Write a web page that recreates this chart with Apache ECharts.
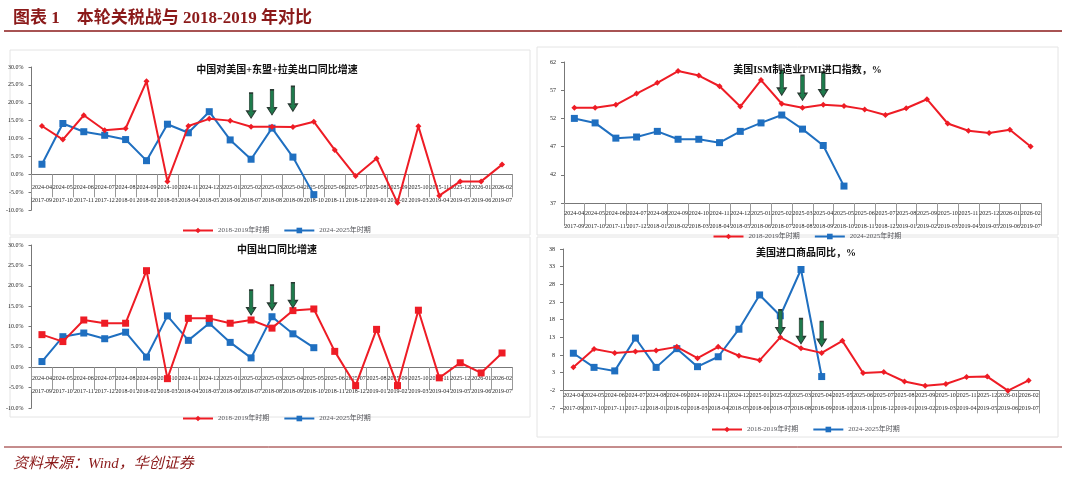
<!DOCTYPE html>
<html><head><meta charset="utf-8">
<script src="https://cdn.jsdelivr.net/npm/echarts@6/dist/echarts.min.js"></script>
<style>html,body{margin:0;padding:0;background:#fff}#c{width:1066px;height:477px}</style>
</head><body><div id="c"></div>
<script>
const catsNew = ['2024-04','2024-05','2024-06','2024-07','2024-08','2024-09','2024-10','2024-11','2024-12','2025-01','2025-02','2025-03','2025-04','2025-05','2025-06','2025-07','2025-08','2025-09','2025-10','2025-11','2025-12','2026-01','2026-02'];
const catsOld = ['2017-09','2017-10','2017-11','2017-12','2018-01','2018-02','2018-03','2018-04','2018-05','2018-06','2018-07','2018-08','2018-09','2018-10','2018-11','2018-12','2019-01','2019-02','2019-03','2019-04','2019-05','2019-06','2019-07'];
const nameOld = '2018-2019年时期', nameNew = '2024-2025年时期';

const exp3Old = [13.5,9.7,16.5,12.3,12.8,26,-2,13.5,15.5,15,13.3,13.3,13.2,14.7,6.8,-0.5,4.4,-8,13.4,-6,-2,-2,2.7];
const exp3New = [2.8,14.2,11.9,10.9,9.7,3.8,14,11.6,17.5,9.6,4.2,12.9,4.8,-5.7];
const ismOld = [53.9,53.9,54.4,56.4,58.3,60.4,59.6,57.7,54.1,58.8,54.6,53.9,54.4,54.2,53.6,52.6,53.8,55.4,51.1,49.8,49.4,50,47];
const ismNew = [52,51.2,48.5,48.7,49.7,48.3,48.3,47.7,49.7,51.2,52.6,50.1,47.2,40];
const expOld = [8.0,6.3,11.6,10.8,10.8,23.7,-2.8,12.0,12.0,10.8,11.6,9.6,13.9,14.3,3.9,-4.5,9.3,-4.5,14.0,-2.6,1.1,-1.4,3.5];
const expNew = [1.4,7.5,8.4,7.0,8.6,2.5,12.6,6.6,10.8,6.1,2.3,12.4,8.2,4.8];
const impOld = [4.5,9.7,8.6,9.0,9.3,10.3,7.1,10.3,7.8,6.5,13.0,9.9,8.6,12.0,2.9,3.2,0.5,-0.7,-0.2,1.8,1.9,-2.1,0.8];
const impNew = [8.5,4.5,3.5,12.8,4.5,9.8,4.7,7.5,15.3,25.0,19.1,32.2,1.9];
const arrowIdx = [10,11,12];
const arrows1 = [15.7,16.6,17.6], arrows2 = [56.1,55.2,55.8], arrows3 = [12.8,14.0,14.6], arrows4 = [13.7,11.2,10.4];

const RED='#ee1c25', BLUE='#1f6fc0', FONT='"Liberation Serif","Noto Sans CJK SC",serif';
const ARROW='path://M3,0 L7,0 L7,20 L10,20 L5,28 L0,20 L3,20 Z';
const panels = [
 {title:'中国对美国+东盟+拉美出口同比增速', g:{left:31.5,width:481,top:67,height:143}, y:{min:-10,max:30,interval:5,pct:true}, old:exp3Old, nw:exp3New, oldSym:'diamond', arr:arrows1, tTop:60, leg:222, lm:-34},
 {title:'美国ISM制造业PMI进口指数，%', g:{left:564,width:477,top:62,height:141}, y:{min:37,max:62,interval:5}, old:ismOld, nw:ismNew, oldSym:'diamond', arr:arrows2, tTop:60, leg:228, lm:-1},
 {title:'中国出口同比增速', g:{left:31.5,width:481,top:245,height:163}, y:{min:-10,max:30,interval:5,pct:true}, old:expOld, nw:expNew, oldSym:'rect', arr:arrows3, tTop:240, leg:410, lm:-41},
 {title:'美国进口商品同比，%', g:{left:563,width:476,top:249,height:159}, y:{min:-7,max:38,interval:5}, old:impOld, nw:impNew, oldSym:'diamond', arr:arrows4, tTop:243, leg:421, off:-159*5/45, lm:-6}
];
const option = {animation:false, textStyle:{fontFamily:FONT}, grid:[], xAxis:[], yAxis:[], series:[], legend:[], title:[
 {text:'图表 1    本轮关税战与 2018-2019 年对比', left:8, top:5, textStyle:{fontFamily:FONT, fontSize:17, fontWeight:'bold', color:'#8b1a1a'}},
 {text:'资料来源：Wind，华创证券', left:8, top:452, textStyle:{fontFamily:FONT, fontSize:15, fontStyle:'italic', fontWeight:'normal', color:'#8b1a1a'}}
], graphic:[
 {type:'line', shape:{x1:4,y1:31,x2:1062,y2:31}, style:{stroke:'#8b1a1a', lineWidth:1.5}},
 {type:'line', shape:{x1:4,y1:447,x2:1062,y2:447}, style:{stroke:'#8b1a1a', lineWidth:1}},
 {type:'rect', shape:{x:10,y:50,width:520,height:185}, style:{fill:'none', stroke:'#e4e4e4'}},
 {type:'rect', shape:{x:537,y:47,width:521,height:188}, style:{fill:'none', stroke:'#e4e4e4'}},
 {type:'rect', shape:{x:10,y:237,width:520,height:180}, style:{fill:'none', stroke:'#e4e4e4'}},
 {type:'rect', shape:{x:537,y:237,width:521,height:200}, style:{fill:'none', stroke:'#e4e4e4'}}
]};
panels.forEach((p,i)=>{
  option.grid.push(p.g);
  option.title.push({text:p.title, left:p.g.left+p.g.width/2, textAlign:'center', top:p.tTop, textStyle:{fontFamily:FONT, fontSize:10, fontWeight:'bold', color:'#111'}});
  option.xAxis.push({type:'category', gridIndex:i, data:catsNew, boundaryGap:true,
    axisLine:{onZero:p.off===undefined, lineStyle:{color:'#777'}}, offset:p.off||0,
    axisTick:{show:true, interval:0, length:23, lineStyle:{color:'#999'}},
    axisLabel:{interval:0, fontSize:6, lineHeight:13, color:'#222', margin:p.lm+5,
      formatter:(v,idx)=>v+'\n'+catsOld[idx]}});
  option.yAxis.push({type:'value', gridIndex:i, min:p.y.min, max:p.y.max, interval:p.y.interval,
    splitLine:{show:false}, axisLine:{show:true, lineStyle:{color:'#777'}}, axisTick:{show:true, length:3},
    axisLabel:{fontSize:6, color:'#222', formatter:p.y.pct?(v=>v.toFixed(1)+'%'):(v=>String(v))}});
  option.series.push({name:nameOld, type:'line', xAxisIndex:i, yAxisIndex:i, data:p.old, symbol:p.oldSym, symbolSize:p.oldSym==='rect'?7:6,
    itemStyle:{color:RED}, lineStyle:{color:RED, width:2}, z:3,
    markPoint:{symbol:ARROW, symbolSize:[9,25], symbolOffset:[0,'-50%'], silent:true, label:{show:false},
      itemStyle:{color:'#1e7b4c', borderColor:'#2a3a33', borderWidth:1},
      data:arrowIdx.map((k,j)=>({coord:[k,p.arr[j]]}))}});
  option.series.push({name:nameNew, type:'line', xAxisIndex:i, yAxisIndex:i, data:p.nw, symbol:'rect', symbolSize:7,
    itemStyle:{color:BLUE}, lineStyle:{color:BLUE, width:2}, z:2});
  option.legend.push({data:[nameOld,nameNew], left:p.g.left+p.g.width/2-95, top:p.leg, textStyle:{fontSize:7, fontFamily:FONT}, itemWidth:30, itemHeight:7, itemGap:14});
});
echarts.init(document.getElementById('c'),null,{renderer:'canvas'}).setOption(option);
</script></body></html>
